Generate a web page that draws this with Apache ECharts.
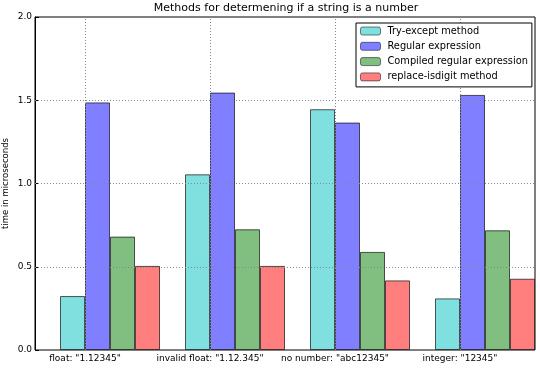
<!DOCTYPE html>
<html>
<head>
<meta charset="utf-8">
<script src="https://cdn.jsdelivr.net/npm/echarts@6/dist/echarts.min.js"></script>
<style>html,body{margin:0;padding:0;background:#fff}#c{width:540px;height:368px}</style>
</head>
<body>
<div id="c"></div>
<script>
const categories = ['float: "1.12345"', 'invalid float: "1.12.345"', 'no number: "abc12345"', 'integer: "12345"'];
const seriesNames = ['Try-except method', 'Regular expression', 'Compiled regular expression', 'replace-isdigit method'];
const tryExcept = [0.324, 1.055, 1.446, 0.31];
const regex = [1.487, 1.546, 1.366, 1.532];
const compiledRegex = [0.681, 0.725, 0.589, 0.719];
const replaceIsdigit = [0.505, 0.505, 0.418, 0.428];
const yTicks = [0.0, 0.5, 1.0, 1.5, 2.0];

const colors = ['#80dfdf', '#7f7fff', '#80bf80', '#ff7f7f'];
const allValues = [tryExcept, regex, compiledRegex, replaceIsdigit];
const font = 'DejaVu Sans';

// group i spans [i+0.2, i+1.0]; bar k centred at i+0.3+0.2k; tick at i+0.4
const tickPos = categories.map((_, i) => i + 0.4);

const series = allValues.map((vals, k) => ({
  name: seriesNames[k],
  type: 'bar',
  barWidth: 25,
  barGap: '-100%',
  itemStyle: { color: colors[k], borderColor: 'rgba(0,0,0,0.65)', borderWidth: 1 },
  data: vals.map((v, i) => [i + 0.3 + 0.2 * k, v])
}));

series[3].markLine = {
  silent: true,
  symbol: 'none',
  z: 5,
  label: { show: false },
  lineStyle: { type: [1, 2], color: '#888', width: 1 },
  emphasis: { disabled: true },
  data: tickPos.map(x => ({ xAxis: x })).concat(yTicks.slice(1, 4).map(y => ({ yAxis: y })))
};

const chart = echarts.init(document.getElementById('c'), null, { renderer: 'canvas' });
chart.setOption({
  animation: false,
  backgroundColor: '#fff',
  title: {
    text: 'Methods for determening if a string is a number',
    left: 286, textAlign: 'center', top: 3, padding: 0,
    textStyle: { fontFamily: font, fontSize: 11, fontWeight: 'normal', color: '#000' }
  },
  legend: {
    orient: 'vertical',
    left: 356, top: 23,
    itemWidth: 20, itemHeight: 8, itemGap: 5.3,
    padding: [3, 4, 5, 4],
    borderColor: '#000', borderWidth: 1,
    backgroundColor: '#fff',
    z: 10,
    textStyle: { fontFamily: font, fontSize: 9.8, color: '#000', lineHeight: 9, padding: [0, 0, 0, 2] },
    data: seriesNames.map((n, k) => ({ name: n, itemStyle: { color: colors[k], borderColor: 'rgba(0,0,0,0.5)', borderWidth: 1 } }))
  },
  grid: { left: 35, right: 5, top: 17, bottom: 18, containLabel: false, outerBoundsMode: 'none', show: true, borderColor: '#000', borderWidth: 1, backgroundColor: 'transparent' },
  xAxis: {
    type: 'value', min: 0, max: 4, interval: 0.2,
    axisLine: { show: false }, axisTick: { show: false }, splitLine: { show: false },
    axisLabel: {
      fontFamily: font, fontSize: 9, color: '#000', margin: 4,
      formatter: function (v) {
        const r = v - 0.4, idx = Math.round(r);
        if (Math.abs(r - idx) < 1e-6 && idx >= 0 && idx < categories.length) return categories[idx];
        return '';
      }
    }
  },
  yAxis: {
    type: 'value', min: 0, max: 2, interval: 0.5,
    name: 'time in microseconds', nameLocation: 'middle', nameGap: 25, nameRotate: 90,
    nameMoveOverlap: false,
    nameTextStyle: { fontFamily: font, fontSize: 8.5, color: '#000' },
    axisLine: { show: true, lineStyle: { color: '#000' } },
    axisTick: { show: true, inside: true, length: 4, lineStyle: { color: '#000' } },
    splitLine: { show: false },
    axisLabel: { fontFamily: font, fontSize: 9, color: '#000', margin: 3, formatter: v => v.toFixed(1) }
  },
  series: series
});
</script>
</body>
</html>
